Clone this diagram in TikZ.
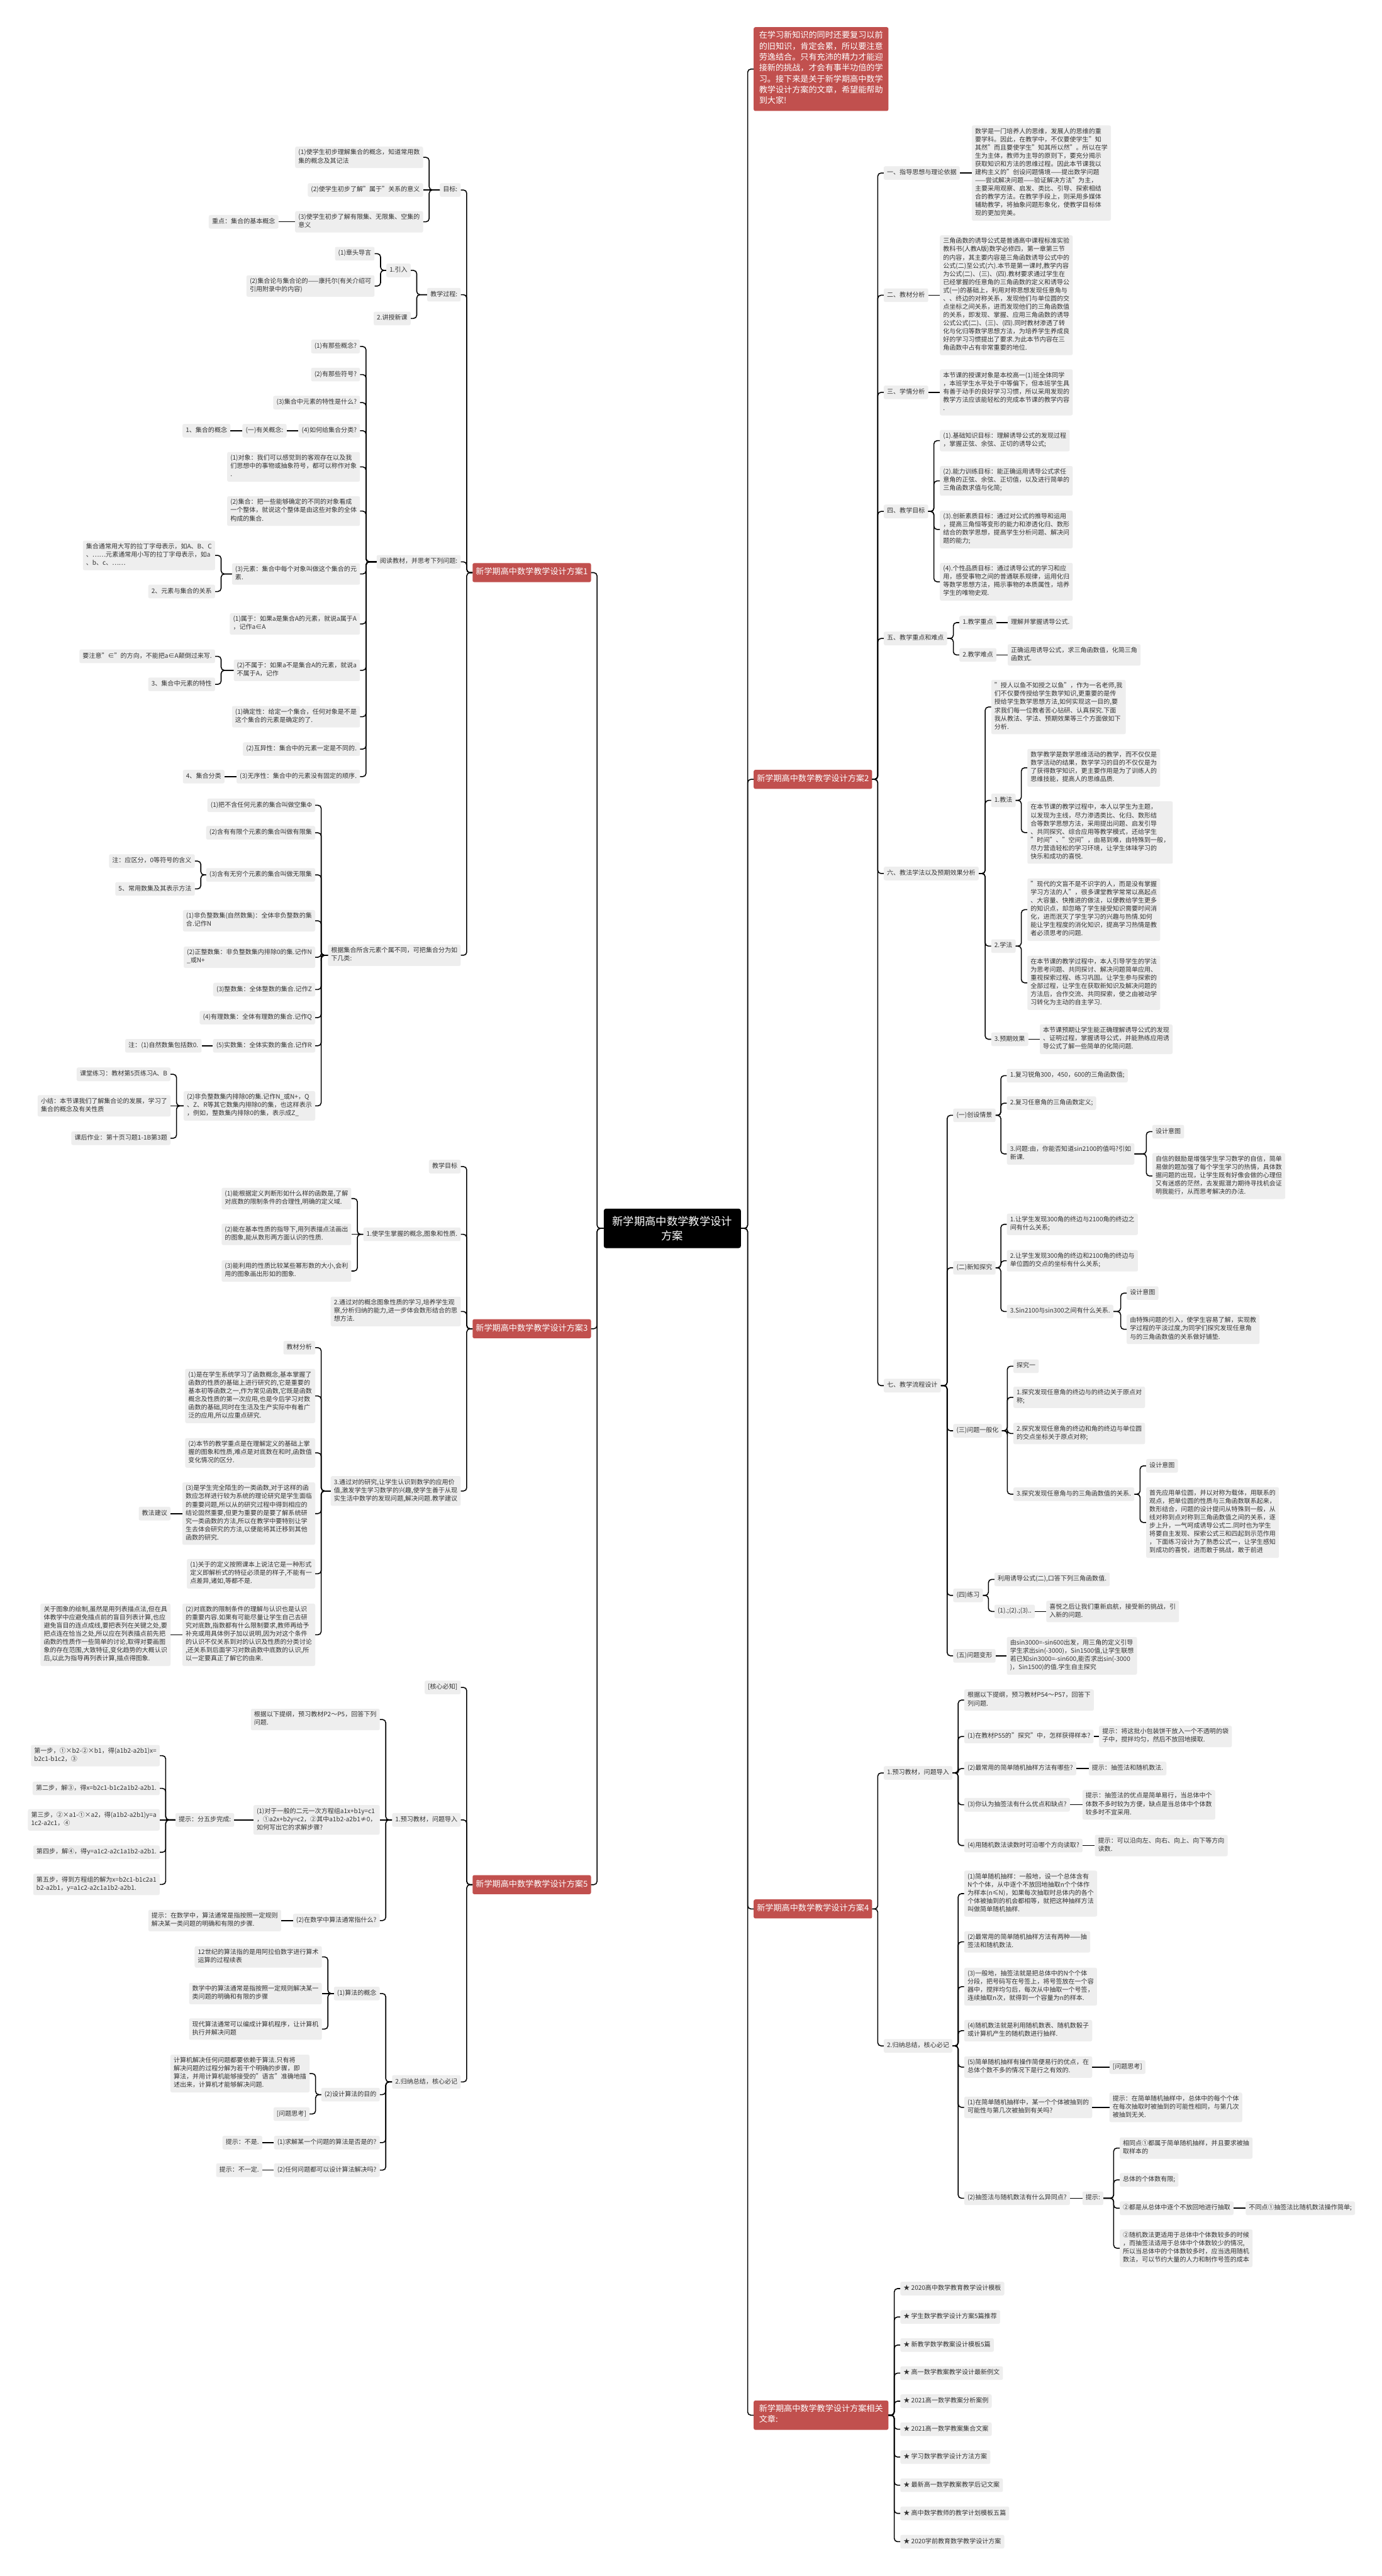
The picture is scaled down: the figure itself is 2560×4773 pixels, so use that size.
\documentclass[tikz,border=0pt]{standalone}
\usepackage{fontspec}
\setmainfont{Noto Sans CJK SC}
\definecolor{boxg}{RGB}{238,238,238}
\definecolor{txt}{RGB}{51,51,51}
\definecolor{redc}{RGB}{193,80,78}
\newcommand{\fs}{\fontsize{11.7pt}{15.2pt}\selectfont}
\newcommand{\fsr}{\fontsize{15.3pt}{20.2pt}\selectfont}
\newcommand{\fsc}{\fontsize{20.2pt}{27pt}\selectfont}
\newcommand\cL[2]{\draw[conn] (#1.west) -| ([xshift=11pt]#2.east) -- (#2.east);}
\newcommand\cR[2]{\draw[conn] (#1.east) -| ([xshift=-11pt]#2.west) -- (#2.west);}
\newcommand\sL[2]{\draw[conn] (#1.west) -- (#1.west -| #2.east);}
\newcommand\sR[2]{\draw[conn] (#1.east) -- (#1.east -| #2.west);}
\tikzset{
 box/.style={fill=boxg, text=txt, rounded corners=3pt, inner xsep=6pt, inner ysep=5pt, align=left, font=\fs,
   execute at begin node=\strut, execute at end node=\strut},
 L/.style={box, anchor=east},
 R/.style={box, anchor=west},
 redn/.style={fill=redc, text=white, rounded corners=3pt, inner xsep=6pt, inner ysep=7.5pt, align=left, font=\fsr,
   execute at begin node=\strut, execute at end node=\strut},
 conn/.style={draw=black, line width=1.8pt, rounded corners=6pt},
}
\begin{document}
\begin{tikzpicture}[x=1pt,y=-1pt]
\fill[white] (0,0) rectangle (2560,4773);
\useasboundingbox (0,0) rectangle (2560,4773);
% center
\node[fill=black, text=white, font=\fsc, align=center, rounded corners=4pt, minimum width=254pt, minimum height=73pt, inner sep=0pt] (C) at (1245.5,2276) {新学期高中数学教学设计\\方案};
% ===== LEFT: plan 1
\node[redn, anchor=east] (m1) at (1095,1061) {新学期高中数学教学设计方案1};
\node[L] (a1) at (853.6,352) {目标:};
\node[L] (a11) at (784,291.5) {(1)使学生初步理解集合的概念，知道常用数\\集的概念及其记法};
\node[L] (a12) at (784,352) {(2)使学生初步了解"属于"关系的意义};
\node[L] (a13) at (784,411) {(3)使学生初步了解有限集、无限集、空集的\\意义};
\node[L] (a131) at (516,411) {重点：集合的基本概念};
\node[L] (a2) at (853.6,546) {教学过程:};
\node[L] (a21) at (761,501) {1.引入};
\node[L] (a211) at (694,470) {(1)章头导言};
\node[L] (a212) at (694,530) {(2)集合论与集合论的——康托尔(有关介绍可\\引用附录中的内容)};
\node[L] (a22) at (761,590) {2.讲授新课};
\node[L] (a3) at (853.6,1041) {阅读教材，并思考下列问题:};
\node[L] (b1) at (667,642) {(1)有那些概念?};
\node[L] (b2) at (667,694) {(2)有那些符号?};
\node[L] (b3) at (667,746) {(3)集合中元素的特性是什么?};
\node[L] (b4) at (667,798) {(4)如何给集合分类?};
\node[L] (b41) at (531,798) {(一)有关概念:};
\node[L] (b411) at (427,798) {1、集合的概念};
\node[L] (b5) at (667,865) {(1)对象：我们可以感觉到的客观存在以及我\\们思想中的事物或抽象符号，都可以称作对象\\.};
\node[L] (b6) at (667,947) {(2)集合：把一些能够确定的不同的对象看成\\一个整体，就说这个整体是由这些对象的全体\\构成的集合.};
\node[L] (b7) at (667,1063.5) {(3)元素：集合中每个对象叫做这个集合的元\\素.};
\node[L] (b71) at (398.6,1029) {集合通常用大写的拉丁字母表示，如A、B、C\\、……元素通常用小写的拉丁字母表示，如a\\、b、c、……};
\node[L] (b72) at (398.6,1096) {2、元素与集合的关系};
\node[L] (b8) at (667,1156) {(1)属于：如果a是集合A的元素，就说a属于A\\，记作a∈A};
\node[L] (b9) at (667,1242) {(2)不属于：如果a不是集合A的元素，就说a\\不属于A，记作};
\node[L] (b91) at (398.6,1216) {要注意"∈"的方向，不能把a∈A颠倒过来写.};
\node[L] (b92) at (398.6,1268) {3、集合中元素的特性};
\node[L] (b10) at (667,1328) {(1)确定性：给定一个集合，任何对象是不是\\这个集合的元素是确定的了.};
\node[L] (b11) at (667,1388) {(2)互异性：集合中的元素一定是不同的.};
\node[L] (b12) at (667,1439) {(3)无序性：集合中的元素没有固定的顺序.};
\node[L] (b121) at (416,1439) {4、集合分类};
\node[L] (a4) at (853.6,1770) {根据集合所含元素个属不同，可把集合分为如\\下几类:};
\node[L] (c1) at (584,1492) {(1)把不含任何元素的集合叫做空集Φ};
\node[L] (c2) at (584,1543) {(2)含有有限个元素的集合叫做有限集};
\node[L] (c3) at (584,1621) {(3)含有无穷个元素的集合叫做无限集};
\node[L] (c31) at (361,1595.5) {注：应区分，0等符号的含义};
\node[L] (c32) at (361,1647) {5、常用数集及其表示方法};
\node[L] (c4) at (584,1706) {(1)非负整数集(自然数集)：全体非负整数的集\\合.记作N};
\node[L] (c5) at (584,1773.6) {(2)正整数集：非负整数集内排除0的集.记作N\\\_或N+};
\node[L] (c6) at (584,1833.5) {(3)整数集：全体整数的集合.记作Z};
\node[L] (c7) at (584,1885.5) {(4)有理数集：全体有理数的集合.记作Q};
\node[L] (c8) at (584,1937.7) {(5)实数集：全体实数的集合.记作R};
\node[L] (c81) at (373.6,1937.7) {注：(1)自然数集包括数0.};
\node[L] (c9) at (584,2049) {(2)非负整数集内排除0的集.记作N\_或N+，Q\\、Z、R等其它数集内排除0的集，也这样表示\\，例如，整数集内排除0的集，表示成Z\_};
\node[L] (c91) at (316,1990.5) {课堂练习：教材第5页练习A、B};
\node[L] (c92) at (316,2049) {小结：本节课我们了解集合论的发展，学习了\\集合的概念及有关性质};
\node[L] (c93) at (316,2109) {课后作业：第十页习题1-1B第3题};
% ===== LEFT: plan 3
\node[redn, anchor=east] (m3) at (1095,2462) {新学期高中数学教学设计方案3};
\node[L] (d1) at (853.6,2161.5) {教学目标};
\node[L] (d2) at (853.6,2287) {1.使学生掌握的概念,图象和性质.};
\node[L] (d21) at (651,2220.7) {(1)能根据定义判断形如什么样的函数是,了解\\对底数的限制条件的合理性,明确的定义域.};
\node[L] (d22) at (651,2287) {(2)能在基本性质的指导下,用列表描点法画出\\的图象,能从数形两方面认识的性质.};
\node[L] (d23) at (651,2355) {(3)能利用的性质比较某些幂形数的大小,会利\\用的图象画出形如的图象.};
\node[L] (d3) at (853.6,2430) {2.通过对的概念图象性质的学习,培养学生观\\察,分析归纳的能力,进一步体会数形结合的思\\想方法.};
\node[L] (d4) at (853.6,2762.6) {3.通过对的研究,让学生认识到数学的应用价\\值,激发学生学习数学的兴趣,使学生善于从现\\实生活中数学的发现问题,解决问题.教学建议};
\node[L] (d41) at (584,2497) {教材分析};
\node[L] (d42) at (584,2586.5) {(1)是在学生系统学习了函数概念,基本掌握了\\函数的性质的基础上进行研究的,它是重要的\\基本初等函数之一,作为常见函数,它既是函数\\概念及性质的第一次应用,也是今后学习对数\\函数的基础,同时在生活及生产实际中有着广\\泛的应用,所以应重点研究.};
\node[L] (d43) at (584,2692) {(2)本节的教学重点是在理解定义的基础上掌\\握的图象和性质,难点是对底数在和时,函数值\\变化情况的区分.};
\node[L] (d44) at (584,2804.5) {(3)是学生完全陌生的一类函数,对于这样的函\\数应怎样进行较为系统的理论研究是学生面临\\的重要问题,所以从的研究过程中得到相应的\\结论固然重要,但更为重要的是要了解系统研\\究一类函数的方法,所以在教学中要特别让学\\生去体会研究的方法,以便能将其迁移到其他\\函数的研究.};
\node[L] (d441) at (316,2804.5) {教法建议};
\node[L] (d45) at (584,2916) {(1)关于的定义按照课本上说法它是一种形式\\定义即解析式的特征必须是的样子,不能有一\\点差异,诸如,等都不是.};
\node[L] (d46) at (584,3029) {(2)对底数的限制条件的理解与认识也是认识\\的重要内容.如果有可能尽量让学生自己去研\\究对底数,指数都有什么限制要求,教师再给予\\补充或用具体例子加以说明,因为对这个条件\\的认识不仅关系到对的认识及性质的分类讨论\\,还关系到后面学习对数函数中底数的认识,所\\以一定要真正了解它的由来.};
\node[L] (d461) at (316,3029) {关于图象的绘制,虽然是用列表描点法,但在具\\体教学中应避免描点前的盲目列表计算,也应\\避免盲目的连点成线,要把表列在关键之处,要\\把点连在恰当之处,所以应在列表描点前先把\\函数的性质作一些简单的讨论,取得对要画图\\象的存在范围,大致特征,变化趋势的大概认识\\后,以此为指导再列表计算,描点得图象.};
% ===== LEFT: plan 5
\node[redn, anchor=east] (m5) at (1095,3492) {新学期高中数学教学设计方案5};
\node[L] (e1) at (853.6,3126.5) {[核心必知]};
\node[L] (e2) at (853.6,3372) {1.预习教材，问题导入};
\node[L] (e21) at (703.6,3186) {根据以下提纲，预习教材P2～P5，回答下列\\问题.};
\node[L] (e22) at (703.6,3372) {(1)对于一般的二元一次方程组a1x+b1y=c1\\，①a2x+b2y=c2，②其中a1b2-a2b1≠0，\\如何写出它的求解步骤?};
\node[L] (e221) at (434,3372) {提示：分五步完成:};
\node[L] (f1) at (296,3253) {第一步，①×b2-②×b1，得(a1b2-a2b1)x=\\b2c1-b1c2，③};
\node[L] (f2) at (296,3313.6) {第二步，解③，得x=b2c1-b1c2a1b2-a2b1.};
\node[L] (f3) at (296,3372) {第三步，②×a1-①×a2，得(a1b2-a2b1)y=a\\1c2-a2c1，④};
\node[L] (f4) at (296,3432) {第四步，解④，得y=a1c2-a2c1a1b2-a2b1.};
\node[L] (f5) at (296,3491.5) {第五步，得到方程组的解为x=b2c1-b1c2a1\\b2-a2b1，y=a1c2-a2c1a1b2-a2b1.};
\node[L] (e23) at (703.6,3558.5) {(2)在数学中算法通常指什么?};
\node[L] (e231) at (521,3558.5) {提示：在数学中，算法通常是指按照一定规则\\解决某一类问题的明确和有限的步骤.};
\node[L] (e3) at (853.6,3857.5) {2.归纳总结，核心必记};
\node[L] (e31) at (703.6,3693.7) {(1)算法的概念};
\node[L] (e311) at (596.4,3625.8) {12世纪的算法指的是用阿拉伯数字进行算术\\运算的过程续表};
\node[L] (e312) at (596.4,3693.7) {数学中的算法通常是指按照一定规则解决某一\\类问题的明确和有限的步骤};
\node[L] (e313) at (596.4,3759.6) {现代算法通常可以编成计算机程序，让计算机\\执行并解决问题};
\node[L] (e32) at (703.6,3881) {(2)设计算法的目的};
\node[L] (e321) at (573.6,3842) {计算机解决任何问题都要依赖于算法.只有将\\解决问题的过程分解为若干个明确的步骤，即\\算法，并用计算机能够接受的"语言"准确地描\\述出来，计算机才能够解决问题.};
\node[L] (e322) at (573.6,3917) {[问题思考]};
\node[L] (e33) at (703.6,3970) {(1)求解某一个问题的算法是否是的?};
\node[L] (e331) at (486,3970) {提示：不是.};
\node[L] (e34) at (703.6,4021) {(2)任何问题都可以设计算法解决吗?};
\node[L] (e341) at (486,4021) {提示：不一定.};
% ===== RIGHT: intro
\node[redn, anchor=west, inner xsep=10pt] (intro) at (1396,128) {在学习新知识的同时还要复习以前\\的旧知识，肯定会累，所以要注意\\劳逸结合。只有充沛的精力才能迎\\接新的挑战，才会有事半功倍的学\\习。接下来是关于新学期高中数学\\教学设计方案的文章，希望能帮助\\到大家!};
% ===== RIGHT: plan 2
\node[redn, anchor=west] (m2) at (1396,1444) {新学期高中数学教学设计方案2};
\node[R] (g1) at (1637,320.6) {一、指导思想与理论依据};
\node[R] (g11) at (1800,320.6) {数学是一门培养人的思维，发展人的思维的重\\要学科。因此，在教学中，不仅要使学生"知\\其然"而且要使学生"知其所以然"。所以在学\\生为主体，教师为主导的原则下，要充分揭示\\获取知识和方法的思维过程。因此本节课我以\\建构主义的"创设问题情境——提出数学问题\\——尝试解决问题——验证解决方法"为主，\\主要采用观察、启发、类比、引导、探索相结\\合的教学方法。在教学手段上，则采用多媒体\\辅助教学，将抽象问题形象化，使教学目标体\\现的更加完美。};
\node[R] (g2) at (1637,547) {二、教材分析};
\node[R] (g21) at (1741,547) {三角函数的诱导公式是普通高中课程标准实验\\教科书(人教A版)数学必修四，第一章第三节\\的内容，其主要内容是三角函数诱导公式中的\\公式(二)至公式(六).本节是第一课时,教学内容\\为公式(二)、(三)、(四).教材要求通过学生在\\已经掌握的任意角的三角函数的定义和诱导公\\式(一)的基础上，利用对称思想发现任意角与\\、、终边的对称关系，发现他们与单位圆的交\\点坐标之间关系，进而发现他们的三角函数值\\的关系，即发现、掌握、应用三角函数的诱导\\公式公式(二)、(三)、(四).同时教材渗透了转\\化与化归等数学思想方法，为培养学生养成良\\好的学习习惯提出了要求.为此本节内容在三\\角函数中占有非常重要的地位.};
\node[R] (g3) at (1637,727) {三、学情分析};
\node[R] (g31) at (1741,727) {本节课的授课对象是本校高一(1)班全体同学\\，本班学生水平处于中等偏下，但本班学生具\\有善于动手的良好学习习惯，所以采用发现的\\教学方法应该能轻松的完成本节课的教学内容\\.};
\node[R] (g4) at (1637,947.6) {四、教学目标};
\node[R] (g41) at (1741,816.5) {(1).基础知识目标：理解诱导公式的发现过程\\，掌握正弦、余弦、正切的诱导公式;};
\node[R] (g42) at (1741,891) {(2).能力训练目标：能正确运用诱导公式求任\\意角的正弦、余弦、正切值，以及进行简单的\\三角函数求值与化简;};
\node[R] (g43) at (1741,981) {(3).创新素质目标：通过对公式的推导和运用\\，提高三角恒等变形的能力和渗透化归、数形\\结合的数学思想，提高学生分析问题、解决问\\题的能力;};
\node[R] (g44) at (1741,1078) {(4).个性品质目标：通过诱导公式的学习和应\\用，感受事物之间的普通联系规律，运用化归\\等数学思想方法，揭示事物的本质属性，培养\\学生的唯物史观.};
\node[R] (g5) at (1637,1183) {五、教学重点和难点};
\node[R] (g51) at (1777,1153.6) {1.教学重点};
\node[R] (g511) at (1866.6,1153.6) {理解并掌握诱导公式.};
\node[R] (g52) at (1777,1213.5) {2.教学难点};
\node[R] (g521) at (1866.6,1213.5) {正确运用诱导公式，求三角函数值，化简三角\\函数式.};
\node[R] (g6) at (1637,1618.5) {六、教法学法以及预期效果分析};
\node[R] (g61) at (1836,1310) {"授人以鱼不如授之以鱼"，作为一名老师,我\\们不仅要传授给学生数学知识,更重要的是传\\授给学生数学思想方法,如何实现这一目的,要\\求我们每一位教者苦心钻研、认真探究.下面\\我从教法、学法、预期效果等三个方面做如下\\分析.};
\node[R] (g62) at (1836,1483) {1.教法};
\node[R] (g621) at (1903,1422.6) {数学教学是数学思维活动的教学，而不仅仅是\\数学活动的结果，数学学习的目的不仅仅是为\\了获得数学知识，更主要作用是为了训练人的\\思维技能，提高人的思维品质.};
\node[R] (g622) at (1903,1542.6) {在本节课的教学过程中，本人以学生为主题，\\以发现为主线，尽力渗透类比、化归、数形结\\合等数学思想方法，采用提出问题、启发引导\\、共同探究、综合应用等教学模式，还给学生\\"时间"、"空间"，由易到难，由特殊到一般，\\尽力营造轻松的学习环境，让学生体味学习的\\快乐和成功的喜悦.};
\node[R] (g63) at (1836,1753) {2.学法};
\node[R] (g631) at (1903,1685.5) {"现代的文盲不是不识字的人，而是没有掌握\\学习方法的人"，很多课堂教学常常以高起点\\、大容量、快推进的做法，以便教给学生更多\\的知识点，却忽略了学生接受知识需要时间消\\化，进而泯灭了学生学习的兴趣与热情.如何\\能让学生程度的消化知识，提高学习热情是教\\者必须思考的问题.};
\node[R] (g632) at (1903,1821) {在本节课的教学过程中，本人引导学生的学法\\为思考问题、共同探讨、解决问题简单应用、\\重视探索过程、练习巩固。让学生参与探索的\\全部过程，让学生在获取新知识及解决问题的\\方法后，合作交流、共同探索，使之由被动学\\习转化为主动的自主学习.};
\node[R] (g64) at (1836,1925.6) {3.预期效果};
\node[R] (g641) at (1926,1925.6) {本节课预期让学生能正确理解诱导公式的发现\\、证明过程，掌握诱导公式，并能熟练应用诱\\导公式了解一些简单的化简问题.};
\node[R] (g7) at (1637,2567.4) {七、教学流程设计};
\node[R] (h1) at (1765.6,2066.5) {(一)创设情景};
\node[R] (h11) at (1865,1993) {1.复习锐角300，450，600的三角函数值;};
\node[R] (h12) at (1865,2044) {2.复习任意角的三角函数定义;};
\node[R] (h13) at (1865,2138) {3.问题:由，你能否知道sin2100的值吗?引如\\新课.};
\node[R] (h131) at (2134.5,2096.8) {设计意图};
\node[R] (h132) at (2134.5,2179) {自信的鼓励是增强学生学习数学的自信，简单\\易做的题加强了每个学生学习的热情，具体数\\据问题的出现，让学生既有好像会做的心理但\\又有迷惑的茫然，去发掘潜力期待寻找机会证\\明我能行，从而思考解决的办法.};
\node[R] (h2) at (1765.6,2349) {(二)新知探究};
\node[R] (h21) at (1865,2268.5) {1.让学生发现300角的终边与2100角的终边之\\间有什么关系;};
\node[R] (h22) at (1865,2336) {2.让学生发现300角的终边和2100角的终边与\\单位圆的交点的坐标有什么关系;};
\node[R] (h23) at (1865,2430) {3.Sin2100与sin300之间有什么关系.};
\node[R] (h231) at (2087,2396) {设计意图};
\node[R] (h232) at (2087,2463) {由特殊问题的引入，使学生容易了解，实现教\\学过程的平淡过度,为同学们探究发现任意角\\与的三角函数值的关系做好铺垫.};
\node[R] (h3) at (1765.6,2651) {(三)问题一般化};
\node[R] (h31) at (1877,2531.4) {探究一};
\node[R] (h32) at (1877,2589) {1.探究发现任意角的终边与的终边关于原点对\\称;};
\node[R] (h33) at (1877,2656) {2.探究发现任意角的终边和角的终边与单位圆\\的交点坐标关于原点对称;};
\node[R] (h34) at (1877,2768.5) {3.探究发现任意角与的三角函数值的关系.};
\node[R] (h341) at (2123,2716) {设计意图};
\node[R] (h342) at (2123,2821) {首先应用单位圆，并以对称为载体，用联系的\\观点，把单位圆的性质与三角函数联系起来，\\数形结合，问题的设计提问从特殊到一般，从\\线对称到点对称到三角函数值之间的关系，逐\\步上升，一气呵成诱导公式二.同时也为学生\\将要自主发现、探索公式三和四起到示范作用\\，下面练习设计为了熟悉公式一，让学生感知\\到成功的喜悦，进而敢于挑战，敢于前进};
\node[R] (h4) at (1765.6,2956) {(四)练习};
\node[R] (h41) at (1842,2926.4) {利用诱导公式(二),口答下列三角函数值.};
\node[R] (h42) at (1842,2985.8) {(1).;(2).;(3)..};
\node[R] (h421) at (1938,2985.8) {喜悦之后让我们重新启航，接受新的挑战，引\\入新的问题.};
\node[R] (h5) at (1765.6,3068) {(五)问题变形};
\node[R] (h51) at (1865,3068) {由sin3000=-sin600出发，用三角的定义引导\\学生求出sin(-3000)，Sin1500值,让学生联想\\若已知sin3000=-sin600,能否求出sin(-3000\\)，Sin1500)的值.学生自主探究};
% ===== RIGHT: plan 4
\node[redn, anchor=west] (m4) at (1396,3537) {新学期高中数学教学设计方案4};
\node[R] (i1) at (1637,3285) {1.预习教材，问题导入};
\node[R] (i11) at (1786,3150) {根据以下提纲，预习教材P54～P57，回答下\\列问题.};
\node[R] (i12) at (1786,3217.4) {(1)在教材P55的"探究"中，怎样获得样本?};
\node[R] (i121) at (2035.7,3217.4) {提示：将这批小包装饼干放入一个不透明的袋\\子中，搅拌均匀，然后不放回地摸取.};
\node[R] (i13) at (1786,3276.8) {(2)最常用的简单随机抽样方法有哪些?};
\node[R] (i131) at (2016.6,3276.8) {提示：抽签法和随机数法.};
\node[R] (i14) at (1786,3344) {(3)你认为抽签法有什么优点和缺点?};
\node[R] (i141) at (2005,3344) {提示：抽签法的优点是简单易行，当总体中个\\体数不多时较为方便，缺点是当总体中个体数\\较多时不宜采用.};
\node[R] (i15) at (1786,3419.5) {(4)用随机数法读数时可沿哪个方向读取?};
\node[R] (i151) at (2028,3419.5) {提示：可以沿向左、向右、向上、向下等方向\\读数.};
\node[R] (i2) at (1637,3790.7) {2.归纳总结，核心必记};
\node[R] (i21) at (1786,3508.6) {(1)简单随机抽样：一般地，设一个总体含有\\N个个体，从中逐个不放回地抽取n个个体作\\为样本(n≤N)，如果每次抽取时总体内的各个\\个体被抽到的机会都相等，就把这种抽样方法\\叫做简单随机抽样.};
\node[R] (i22) at (1786,3598) {(2)最常用的简单随机抽样方法有两种——抽\\签法和随机数法.};
\node[R] (i23) at (1786,3681) {(3)一般地，抽签法就是把总体中的N个个体\\分段，把号码写在号签上，将号签放在一个容\\器中，搅拌均匀后，每次从中抽取一个号签，\\连续抽取n次，就得到一个容量为n的样本.};
\node[R] (i24) at (1786,3762.6) {(4)随机数法就是利用随机数表、随机数骰子\\或计算机产生的随机数进行抽样.};
\node[R] (i25) at (1786,3830) {(5)简单随机抽样有操作简便易行的优点，在\\总体个数不多的情况下是行之有效的.};
\node[R] (i251) at (2055,3830) {[问题思考]};
\node[R] (i26) at (1786,3904.6) {(1)在简单随机抽样中，某一个个体被抽到的\\可能性与第几次被抽到有关吗?};
\node[R] (i261) at (2055,3904.6) {提示：在简单随机抽样中，总体中的每个个体\\在每次抽取时被抽到的可能性相同，与第几次\\被抽到无关.};
\node[R] (i27) at (1786,4073) {(2)抽签法与随机数法有什么异同点?};
\node[R] (i271) at (2005,4073) {提示:};
\node[R] (j1) at (2074,3980) {相同点①都属于简单随机抽样，并且要求被抽\\取样本的};
\node[R] (j2) at (2074,4039) {总体的个体数有限;};
\node[R] (j3) at (2074,4091.5) {②都是从总体中逐个不放回地进行抽取};
\node[R] (j31) at (2307.4,4091.5) {不同点①抽签法比随机数法操作简单;};
\node[R] (j4) at (2074,4165.7) {②随机数法更适用于总体中个体数较多的时候\\，而抽签法适用于总体中个体数较少的情况,\\所以当总体中的个体数较多时，应当选用随机\\数法，可以节约大量的人力和制作号签的成本};
% ===== RIGHT: related
\node[redn, anchor=west, inner xsep=10pt] (m6) at (1396,4475) {新学期高中数学教学设计方案相关\\文章:};
\node[R] (k1) at (1667.6,4240.4) {★ 2020高中数学教育教学设计模板};
\node[R] (k2) at (1667.6,4293) {★ 学生数学教学设计方案5篇推荐};
\node[R] (k3) at (1667.6,4345) {★ 新教学数学教案设计模板5篇};
\node[R] (k4) at (1667.6,4397) {★ 高一数学教案教学设计最新例文};
\node[R] (k5) at (1667.6,4449) {★ 2021高一数学教案分析案例};
\node[R] (k6) at (1667.6,4501) {★ 2021高一数学教案集合文案};
\node[R] (k7) at (1667.6,4552.6) {★ 学习数学教学设计方法方案};
\node[R] (k8) at (1667.6,4604.7) {★ 最新高一数学教案教学后记文案};
\node[R] (k9) at (1667.6,4657) {★ 高中数学教师的教学计划模板五篇};
\node[R] (k10) at (1667.6,4709.4) {★ 2020学前教育数学教学设计方案};
% ===== connectors LEFT
\cL{C}{m1} \cL{C}{m3} \cL{C}{m5}
\cL{m1}{a1} \cL{m1}{a2} \cL{m1}{a3} \cL{m1}{a4}
\cL{a1}{a11} \sL{a1}{a12} \cL{a1}{a13} \sL{a13}{a131}
\cL{a2}{a21} \cL{a2}{a22} \cL{a21}{a211} \cL{a21}{a212}
\foreach \n in {b1,b2,b3,b4,b5,b6,b7,b8,b9,b10,b11,b12}{\cL{a3}{\n}}
\sL{b4}{b41} \sL{b41}{b411}
\cL{b7}{b71} \cL{b7}{b72}
\cL{b9}{b91} \cL{b9}{b92}
\sL{b12}{b121}
\foreach \n in {c1,c2,c3,c4,c5,c6,c7,c8,c9}{\cL{a4}{\n}}
\cL{c3}{c31} \cL{c3}{c32}
\sL{c8}{c81}
\cL{c9}{c91} \sL{c9}{c92} \cL{c9}{c93}
\cL{m3}{d1} \cL{m3}{d2} \cL{m3}{d3} \cL{m3}{d4}
\cL{d2}{d21} \sL{d2}{d22} \cL{d2}{d23}
\foreach \n in {d41,d42,d43,d44,d45,d46}{\cL{d4}{\n}}
\sL{d44}{d441} \sL{d46}{d461}
\cL{m5}{e1} \cL{m5}{e2} \cL{m5}{e3}
\cL{e2}{e21} \sL{e2}{e22} \cL{e2}{e23}
\sL{e22}{e221}
\cL{e221}{f1} \cL{e221}{f2} \sL{e221}{f3} \cL{e221}{f4} \cL{e221}{f5}
\sL{e23}{e231}
\cL{e3}{e31} \cL{e3}{e32} \cL{e3}{e33} \cL{e3}{e34}
\cL{e31}{e311} \sL{e31}{e312} \cL{e31}{e313}
\cL{e32}{e321} \cL{e32}{e322}
\sL{e33}{e331} \sL{e34}{e341}
% ===== connectors RIGHT
\cR{C}{intro} \cR{C}{m2} \cR{C}{m4} \cR{C}{m6}
\foreach \n in {g1,g2,g3,g4,g5,g6,g7}{\cR{m2}{\n}}
\sR{g1}{g11} \sR{g2}{g21} \sR{g3}{g31}
\foreach \n in {g41,g42,g43,g44}{\cR{g4}{\n}}
\cR{g5}{g51} \cR{g5}{g52} \sR{g51}{g511} \sR{g52}{g521}
\foreach \n in {g61,g62,g63,g64}{\cR{g6}{\n}}
\cR{g62}{g621} \cR{g62}{g622} \cR{g63}{g631} \cR{g63}{g632}
\sR{g64}{g641}
\foreach \n in {h1,h2,h3,h4,h5}{\cR{g7}{\n}}
\cR{h1}{h11} \cR{h1}{h12} \cR{h1}{h13}
\cR{h13}{h131} \cR{h13}{h132}
\cR{h2}{h21} \cR{h2}{h22} \cR{h2}{h23}
\cR{h23}{h231} \cR{h23}{h232}
\foreach \n in {h31,h32,h33,h34}{\cR{h3}{\n}}
\cR{h34}{h341} \cR{h34}{h342}
\cR{h4}{h41} \cR{h4}{h42} \sR{h42}{h421}
\sR{h5}{h51}
\cR{m4}{i1} \cR{m4}{i2}
\foreach \n in {i11,i12,i13,i14,i15}{\cR{i1}{\n}}
\sR{i12}{i121} \sR{i13}{i131} \sR{i14}{i141} \sR{i15}{i151}
\foreach \n in {i21,i22,i23,i24,i25,i26,i27}{\cR{i2}{\n}}
\sR{i25}{i251} \sR{i26}{i261} \sR{i27}{i271}
\foreach \n in {j1,j2,j3,j4}{\cR{i271}{\n}}
\sR{j3}{j31}
\foreach \n in {k1,k2,k3,k4,k5,k6,k7,k8,k9,k10}{\cR{m6}{\n}}
\end{tikzpicture}
\end{document}
